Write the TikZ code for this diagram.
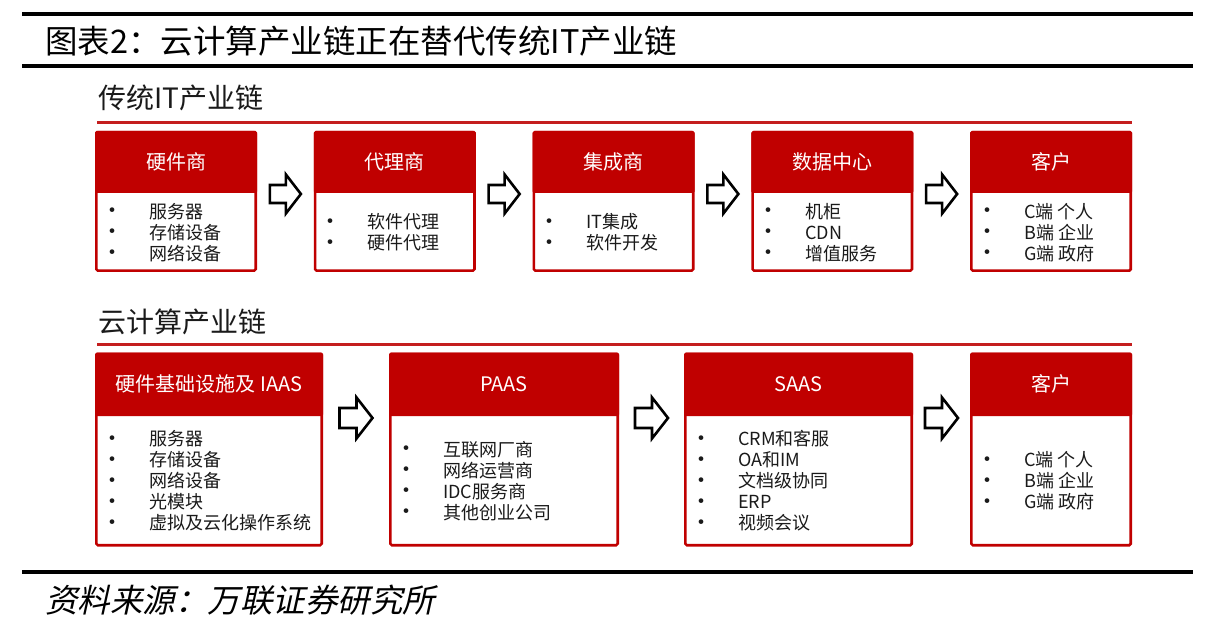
\documentclass[tikz,border=0pt]{standalone}
\usepackage{fontspec}
\setmainfont{Noto Sans CJK SC}
\newfontfamily\kaifont[FakeSlant=0.22]{Noto Sans CJK SC}
\usetikzlibrary{calc}
\definecolor{red0}{HTML}{C00000}
\definecolor{redline}{HTML}{C41E1E}
\definecolor{ink}{HTML}{1A1A1A}
\newcommand\itm[1]{\makebox[0pt]{\raisebox{-0.6pt}{\fontsize{22}{22}\selectfont\textbullet}}\hspace{37pt}#1}
\tikzset{
  frame/.style={draw=red0, line width=2.6pt, fill=white, rounded corners=1.5pt, inner sep=0pt},
  hdr/.style={fill=red0, rounded corners=1.5pt, inner sep=0pt, text=white, font=\fontsize{20}{22}\selectfont},
  items/.style={anchor=west, inner sep=0pt, align=left, text=ink, font=\fontsize{18}{21}\selectfont},
  sectitle/.style={anchor=west, inner sep=0pt, text=ink, font=\fontsize{28}{30}\selectfont},
  arrowline/.style={draw=black, fill=white, line width=2.6pt, line join=miter},
  harrowA/.pic={\path[arrowline] (-15.5,-9) -- (0.5,-9) -- (0.5,-19.5) -- (15.5,0) -- (0.5,19.5) -- (0.5,9) -- (-15.5,9) -- cycle;},
  harrowB/.pic={\path[arrowline] (-16.5,-10) -- (0.5,-10) -- (0.5,-20.5) -- (16.5,0) -- (0.5,20.5) -- (0.5,10) -- (-16.5,10) -- cycle;},
  rule/.style={line width=4pt, black},
  redrule/.style={line width=2.2pt, redline}
}
\begin{document}
\begin{tikzpicture}[x=1pt,y=-1pt]
\useasboundingbox (0,0) rectangle (1210,628);

% header rules and title
\coordinate (r1a) at (22,14.5);  \coordinate (r1b) at (1193,14.5);
\coordinate (r2a) at (22,66);    \coordinate (r2b) at (1193,66);
\coordinate (r3a) at (22,572);   \coordinate (r3b) at (1193,572);
\draw[rule] (r1a) -- (r1b);
\draw[rule] (r2a) -- (r2b);
\draw[rule] (r3a) -- (r3b);
\node[anchor=west, inner sep=0pt, font=\fontsize{32.5}{33}\selectfont] (title) at (45,41) {图表2：云计算产业链正在替代传统IT产业链};
\node[anchor=west, inner sep=0pt, font=\kaifont\fontsize{32.5}{33}\selectfont] (source) at (45,600) {资料来源：万联证券研究所};

% section 1
\node[sectitle] (s1) at (98,98) {传统IT产业链};
\coordinate (l1a) at (97,122.5); \coordinate (l1b) at (1132,122.5);
\draw[redrule] (l1a) -- (l1b);

\node[frame, minimum width=159.4pt, minimum height=138.4pt] (b1) at (176,201.5) {};
\node[frame, minimum width=159.4pt, minimum height=138.4pt] (b2) at (394.75,201.5) {};
\node[frame, minimum width=159.4pt, minimum height=138.4pt] (b3) at (613.5,201.5) {};
\node[frame, minimum width=159.4pt, minimum height=138.4pt] (b4) at (832.25,201.5) {};
\node[frame, minimum width=159.4pt, minimum height=138.4pt] (b5) at (1051,201.5) {};

\node[hdr, minimum width=162pt, minimum height=62pt] (h1) at (176,162) {硬件商};
\node[hdr, minimum width=162pt, minimum height=62pt] (h2) at (394.75,162) {代理商};
\node[hdr, minimum width=162pt, minimum height=62pt] (h3) at (613.5,162) {集成商};
\node[hdr, minimum width=162pt, minimum height=62pt] (h4) at (832.25,162) {数据中心};
\node[hdr, minimum width=162pt, minimum height=62pt] (h5) at (1051,162) {客户};

\node[items] (i1) at (112,232.5) {\itm{服务器}\\\itm{存储设备}\\\itm{网络设备}};
\node[items] (i2) at (330.75,232.5) {\itm{软件代理}\\\itm{硬件代理}};
\node[items] (i3) at (549.5,232.5) {\itm{IT集成}\\\itm{软件开发}};
\node[items] (i4) at (768.25,232.5) {\itm{机柜}\\\itm{CDN}\\\itm{增值服务}};
\node[items] (i5) at (987,232.5) {\itm{C端 个人}\\\itm{B端 企业}\\\itm{G端 政府}};

\coordinate (m1) at ($(b1.east)!0.5!(b2.west)+(0,-7.5)$);
\coordinate (m2) at ($(b2.east)!0.5!(b3.west)+(0,-7.5)$);
\coordinate (m3) at ($(b3.east)!0.5!(b4.west)+(0,-7.5)$);
\coordinate (m4) at ($(b4.east)!0.5!(b5.west)+(0,-7.5)$);
\pic at (m1) {harrowA};
\pic at (m2) {harrowA};
\pic at (m3) {harrowA};
\pic at (m4) {harrowA};

% section 2
\node[sectitle] (s2) at (98,322) {云计算产业链};
\coordinate (l2a) at (97,344.5); \coordinate (l2b) at (1132,344.5);
\draw[redrule] (l2a) -- (l2b);

\node[frame, minimum width=225.4pt, minimum height=191.4pt] (c1) at (209,449.5) {};
\node[frame, minimum width=227.4pt, minimum height=191.4pt] (c2) at (504,449.5) {};
\node[frame, minimum width=226.4pt, minimum height=191.4pt] (c3) at (798.5,449.5) {};
\node[frame, minimum width=159.4pt, minimum height=191.4pt] (c4) at (1051,449.5) {};

\node[hdr, minimum width=228pt, minimum height=63.5pt] (g1) at (209,384.25) {硬件基础设施及 IAAS};
\node[hdr, minimum width=230pt, minimum height=63.5pt] (g2) at (504,384.25) {PAAS};
\node[hdr, minimum width=229pt, minimum height=63.5pt] (g3) at (798.5,384.25) {SAAS};
\node[hdr, minimum width=162pt, minimum height=63.5pt] (g4) at (1051,384.25) {客户};

\node[items] (j1) at (112,481) {\itm{服务器}\\\itm{存储设备}\\\itm{网络设备}\\\itm{光模块}\\\itm{虚拟及云化操作系统}};
\node[items] (j2) at (406,481) {\itm{互联网厂商}\\\itm{网络运营商}\\\itm{IDC服务商}\\\itm{其他创业公司}};
\node[items] (j3) at (701,481) {\itm{CRM和客服}\\\itm{OA和IM}\\\itm{文档级协同}\\\itm{ERP}\\\itm{视频会议}};
\node[items] (j4) at (987,481) {\itm{C端 个人}\\\itm{B端 企业}\\\itm{G端 政府}};

\coordinate (n1) at ($(c1.east)!0.5!(c2.west)+(0,-31.5)$);
\coordinate (n2) at ($(c2.east)!0.5!(c3.west)+(0,-31.5)$);
\coordinate (n3) at ($(c3.east)!0.5!(c4.west)+(0,-31.5)$);
\pic at (n1) {harrowB};
\pic at (n2) {harrowB};
\pic at (n3) {harrowB};
\end{tikzpicture}
\end{document}
